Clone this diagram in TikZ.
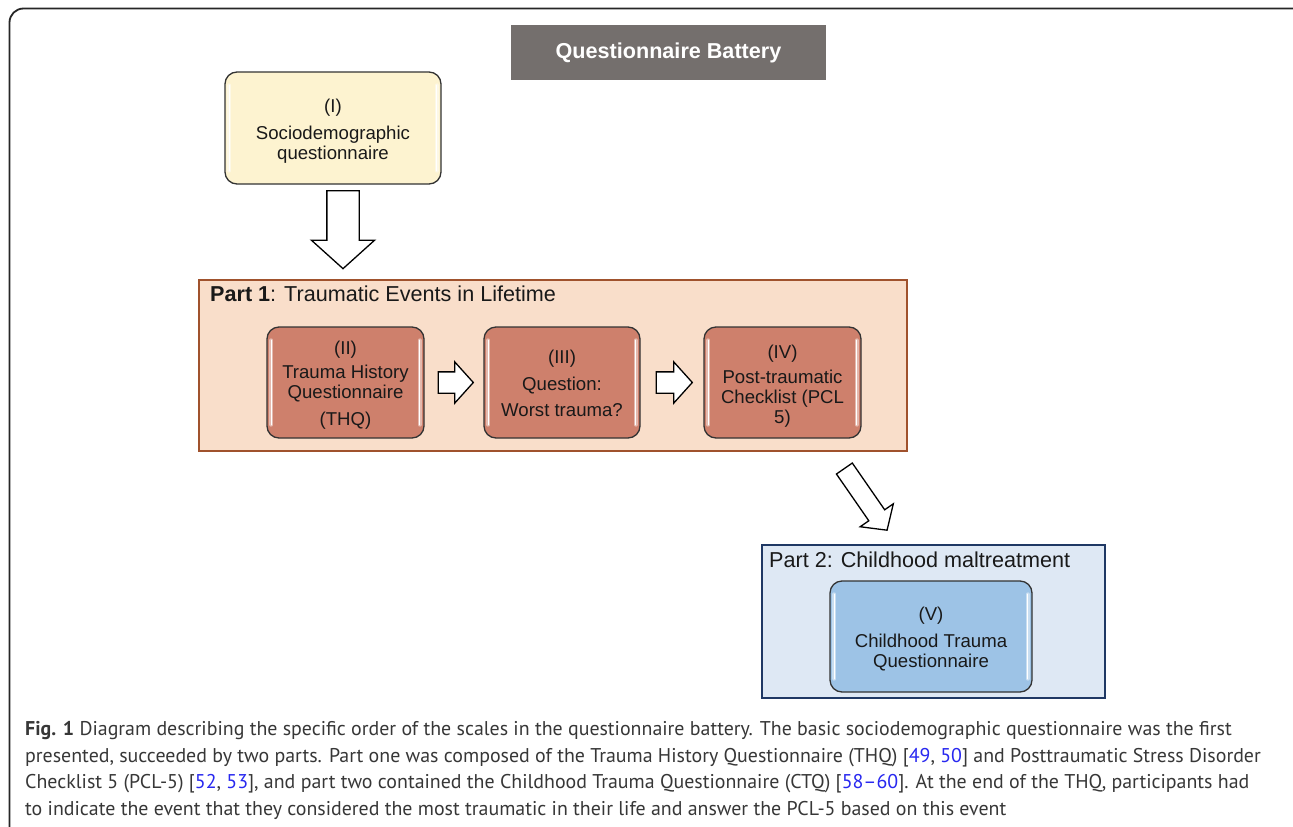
\documentclass[tikz,border=0pt]{standalone}
\usepackage{fontspec}
\setmainfont{Liberation Sans}
\newfontfamily\capfont[Ligatures=TeX]{PT Sans}
\usetikzlibrary{shapes.arrows,calc}
\definecolor{yellowfill}{RGB}{253,243,208}
\definecolor{partonefill}{RGB}{249,222,202}
\definecolor{partonedraw}{RGB}{160,82,45}
\definecolor{salmon}{RGB}{206,128,108}
\definecolor{parttwofill}{RGB}{222,232,244}
\definecolor{parttwodraw}{RGB}{31,56,100}
\definecolor{bluebox}{RGB}{157,195,230}
\definecolor{titlegray}{RGB}{116,111,109}
\definecolor{capgray}{RGB}{55,55,55}
\definecolor{citeblue}{RGB}{40,40,240}
\newcommand{\citeref}[1]{\textcolor{citeblue}{#1}}
\tikzset{
  qbox/.style={draw=black!80, line width=1.3pt, rounded corners=12pt, inner sep=0pt},
  qtext/.style={align=center, inner sep=0pt, font=\fontsize{18.6}{20}\selectfont, text=black!90},
  blockarrow/.style={single arrow, draw=black, line width=1.3pt, fill=white, inner sep=0pt,
    single arrow tip angle=96, anchor=tail},
  parttitle/.style={anchor=west, inner sep=0pt, font=\fontsize{21.6}{24}\selectfont, text=black!90},
  hilite/.style={white, line width=1.6pt, line cap=round}
}
\newcommand{\hl}[1]{%
  \draw[white, opacity=.45, line width=4pt, line cap=round] ($(#1.north west)+(5,14)$) -- ($(#1.south west)+(5,-14)$);
  \draw[hilite] ($(#1.north west)+(5,14)$) -- ($(#1.south west)+(5,-14)$);
  \draw[white, opacity=.45, line width=4pt, line cap=round] ($(#1.north east)+(-5,14)$) -- ($(#1.south east)+(-5,-14)$);
  \draw[hilite] ($(#1.north east)+(-5,14)$) -- ($(#1.south east)+(-5,-14)$);
}
\begin{document}
\begin{tikzpicture}[x=1pt,y=-1pt]
\useasboundingbox (0,0) rectangle (1293,827);
\clip (0,0) rectangle (1293,827);
\fill[white] (0,0) rectangle (1293,827);
\draw[line width=1.8pt, rounded corners=14pt, black!85] (9.5,8.5) rectangle (1310,845);

% title
\node[fill=titlegray, minimum width=315pt, minimum height=55pt, inner sep=0pt, text=white,
  font=\bfseries\fontsize{21.6}{24}\selectfont] (title) at (668.5,52.5) {\raisebox{-2pt}{Questionnaire Battery}};

% box I
\node[qbox, fill=yellowfill, minimum width=216pt, minimum height=112pt] (socio) at (333,128) {};
\hl{socio}
\node[qtext] (sociotext) at ($(socio.center)+(0,3)$) {(I)\\[7pt]Sociodemographic\\questionnaire};

% down arrow
\node[blockarrow, rotate=-90, minimum height=78pt, single arrow head extend=15.5pt] (adown) at (343,190) {\rule{0pt}{31pt}};

% part 1
\node[draw=partonedraw, fill=partonefill, line width=1.3pt, minimum width=708pt, minimum height=171pt, inner sep=0pt] (part1) at (553,365.5) {};
\node[parttitle] (p1title) at (210,293.5) {\textbf{Part 1}: Traumatic Events in Lifetime};

\node[qbox, fill=salmon, minimum width=157pt, minimum height=111pt] (thq) at (345.5,382.5) {};
\hl{thq}
\node[qtext] (thqtext) at ($(thq.center)+(0,3)$) {(II)\\[4pt]Trauma History\\Questionnaire\\[7pt](THQ)};
\node[qbox, fill=salmon, minimum width=156pt, minimum height=111pt] (worst) at (562,382.5) {};
\hl{worst}
\node[qtext, font=\fontsize{18.6}{26.5}\selectfont] (worsttext) at ($(worst.center)+(0,1)$) {(III)\\Question:\\Worst trauma?};
\node[qbox, fill=salmon, minimum width=157pt, minimum height=111pt] (pcl) at (782.5,382.5) {};
\hl{pcl}
\node[qtext] (pcltext) at ($(pcl.center)+(0,4)$) {(IV)\\[5pt]Post-traumatic\\Checklist (PCL\\5)};

\node[blockarrow, minimum height=35pt, single arrow head extend=10pt] (a1) at ($(thq.east)+(13,0)$) {\rule{0pt}{20pt}};
\node[blockarrow, minimum height=36pt, single arrow head extend=10pt] (a2) at ($(worst.east)+(15,0)$) {\rule{0pt}{20pt}};

% diagonal arrow
\node[blockarrow, rotate=-55.3, minimum height=75pt, single arrow head extend=10.5pt] (adiag) at (844,468) {\rule{0pt}{18pt}};

% part 2
\node[draw=parttwodraw, fill=parttwofill, line width=1.3pt, minimum width=343pt, minimum height=153pt, inner sep=0pt] (part2) at (933.5,621.5) {};
\node[parttitle] (p2title) at (769,560) {Part 2: Childhood maltreatment};
\node[qbox, fill=bluebox, minimum width=202pt, minimum height=111pt] (ctq) at (931,636.5) {};
\hl{ctq}
\node[qtext] (ctqtext) at ($(ctq.center)+(0,3)$) {(V)\\[7pt]Childhood Trauma\\Questionnaire};

% caption
\node[anchor=north west, inner sep=0pt, align=left, text=capgray,
  font=\capfont\fontsize{19.9}{26.8}\selectfont] (caption) at (25,721) {%
\textbf{Fig. 1} Diagram describing the specific order of the scales in the questionnaire battery. The basic sociodemographic questionnaire was the first\\
presented, succeeded by two parts. Part one was composed of the Trauma History Questionnaire (THQ) [\citeref{49}, \citeref{50}] and Posttraumatic Stress Disorder\\
Checklist 5 (PCL-5) [\citeref{52}, \citeref{53}], and part two contained the Childhood Trauma Questionnaire (CTQ) [\citeref{58\textendash60}]. At the end of the THQ, participants had\\
to indicate the event that they considered the most traumatic in their life and answer the PCL-5 based on this event};
\end{tikzpicture}
\end{document}
